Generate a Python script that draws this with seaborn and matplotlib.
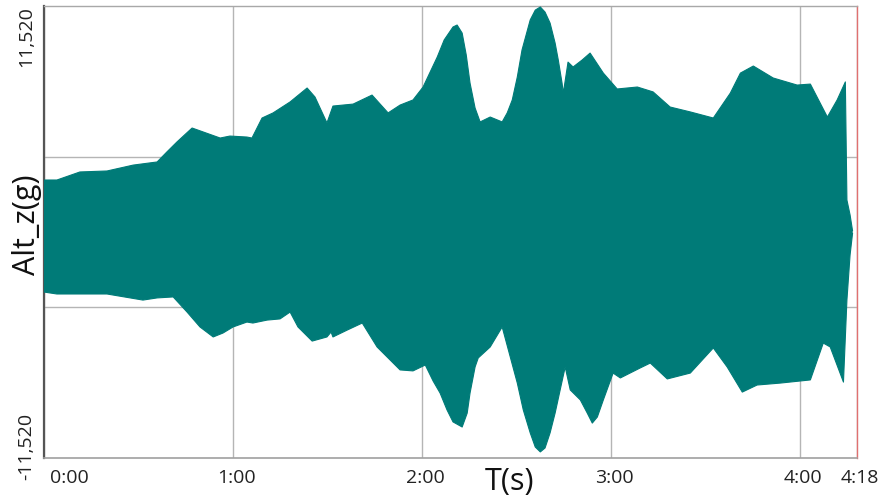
import matplotlib
matplotlib.use("Agg")
import matplotlib.pyplot as plt
from matplotlib.transforms import ScaledTranslation
import seaborn as sns
import numpy as np
import pandas as pd

# envelope of the Alt_z signal (t in seconds, value in g)
t_upper = [0, 4.1, 11.4, 20.0, 28.3, 35.9, 39.0, 42.2, 47.0, 50.5,
           55.9, 59.0, 64.4, 66.0, 69.2, 72.7, 78.1, 83.5, 86.0, 89.8,
           91.7, 98.1, 104.1, 109.2, 113.0, 117.1, 120.3, 124.8, 127.0, 129.8,
           131.1, 132.7, 134.0, 135.2, 136.8, 138.4, 141.6, 145.4, 147.0, 148.6,
           150.2, 151.7, 154.3, 155.9, 157.5, 159.0, 160.6, 162.2, 163.2, 164.4,
           164.8, 166.3, 167.9, 170.8, 173.3, 177.5, 181.9, 188.3, 193.3, 198.7,
           205.1, 212.4, 217.8, 221.0, 225.1, 231.4, 239.0, 243.2, 248.6, 251.7,
           254.3, 254.8, 255.8, 256.6]
upper = [2.65, 2.65, 3.06, 3.11, 3.41, 3.57, 4.08, 4.59, 5.30, 5.10,
         4.79, 4.89, 4.84, 4.79, 5.81, 6.07, 6.63, 7.34, 6.88, 5.56,
         6.42, 6.52, 6.98, 6.07, 6.47, 6.73, 7.39, 8.92, 9.79, 10.45,
         10.55, 10.14, 9.02, 7.59, 6.32, 5.61, 5.86, 5.61, 6.07, 6.73,
         7.90, 9.28, 10.81, 11.31, 11.47, 11.21, 10.65, 9.63, 8.77, 7.59,
         7.08, 8.66, 8.41, 8.77, 9.12, 8.10, 7.29, 7.39, 7.14, 6.37,
         6.12, 5.81, 7.08, 8.10, 8.46, 7.85, 7.49, 7.54, 5.86, 6.73,
         7.65, 1.63, 0.87, 0.05]

t_lower = [0, 4.1, 20.0, 31.4, 35.9, 41.0, 45.4, 49.5, 53.7, 56.8,
           60.0, 64.4, 66.3, 70.8, 74.9, 78.1, 80.6, 85.1, 89.8, 91.1,
           91.7, 96.2, 101.0, 105.7, 113.0, 117.1, 121.0, 123.5, 125.7, 127.9,
           129.8, 132.7, 134.3, 135.2, 136.8, 137.8, 141.6, 145.4, 150.2, 152.1,
           154.3, 155.9, 157.5, 159.0, 160.6, 162.2, 163.8, 165.4, 167.0, 170.2,
           172.4, 174.0, 175.6, 177.5, 180.6, 182.9, 189.2, 192.4, 197.8, 205.1,
           212.4, 216.8, 221.6, 226.3, 233.7, 243.2, 247.3, 249.5, 253.7, 254.8,
           255.8, 256.6]
lower = [-3.06, -3.16, -3.16, -3.47, -3.36, -3.31, -4.08, -4.84, -5.35, -5.15,
         -4.84, -4.59, -4.64, -4.49, -4.43, -4.08, -4.84, -5.56, -5.35, -5.10,
         -5.35, -5.00, -4.64, -5.86, -7.03, -7.08, -6.78, -7.60, -8.21, -9.07,
         -9.68, -9.94, -9.23, -8.21, -6.88, -6.42, -5.86, -4.84, -7.70, -9.07,
         -10.24, -10.96, -11.21, -11.01, -10.24, -9.23, -8.05, -6.88, -8.05, -8.56,
         -9.23, -9.74, -9.43, -8.56, -7.19, -7.44, -6.93, -6.68, -7.49, -7.19,
         -5.91, -6.88, -8.16, -7.80, -7.70, -7.54, -5.66, -5.86, -7.65, -3.47,
         -1.17, -0.05]

x_ticks = [0, 60, 120, 180, 240, 258]
x_labels = ["0:00", "1:00", "2:00", "3:00", "4:00", "4:18"]
y_lim = 11.52
y_labels = ["-11,520", "11,520"]
y_grid = [-3.84, 3.84]

teal = "#007b78"

sns.set_style("white")
plt.rcParams['font.family'] = ['Open Sans', 'DejaVu Sans']

fig = plt.figure(figsize=(8.87, 5.01), dpi=100)
ax = fig.add_axes([44 / 887, 1 - 458 / 501, 813 / 887, 452 / 501])

# filled envelope
ax.fill(np.concatenate([t_upper, t_lower[::-1]]),
        np.concatenate([upper, lower[::-1]]),
        color=teal, lw=0, zorder=3)
df_up = pd.DataFrame({"t": t_upper, "v": upper})
df_lo = pd.DataFrame({"t": t_lower, "v": lower})
sns.lineplot(data=df_up, x="t", y="v", color=teal, lw=0.8, ax=ax, zorder=3)
sns.lineplot(data=df_lo, x="t", y="v", color=teal, lw=0.8, ax=ax, zorder=3)

ax.set_xlim(0, 258)
ax.set_ylim(-y_lim, y_lim)

ax.set_xticks(x_ticks, x_labels, fontsize=14)
ax.set_yticks([-y_lim, y_lim], y_labels, fontsize=14)
ax.set_yticks(y_grid, minor=True)
ax.tick_params(axis="both", which="both", length=0, colors="#222222")
ax.tick_params(axis="x", pad=8)
ax.tick_params(axis="y", pad=6)

ax.grid(True, axis="x", which="major", color="#b5b5b5", lw=1)
ax.grid(True, axis="y", which="minor", color="#b5b5b5", lw=1)
ax.set_axisbelow(True)

# tick label placement
xl = ax.get_xticklabels()
xl[0].set_ha("left")
xl[0].set_transform(xl[0].get_transform() + ScaledTranslation(6 / 100, 0, fig.dpi_scale_trans))
for lab in xl[1:]:
    lab.set_transform(lab.get_transform() + ScaledTranslation(3 / 100, 0, fig.dpi_scale_trans))
yl = ax.get_yticklabels()
for lab in yl:
    lab.set_rotation(90)
yl[0].set_va("bottom")
yl[0].set_transform(yl[0].get_transform() + ScaledTranslation(0, -22 / 100, fig.dpi_scale_trans))
yl[1].set_va("top")

ax.set_xlabel("T(s)", fontsize=22, color="#111111")
ax.xaxis.set_label_coords(0.572, -0.02)
ax.set_ylabel("Alt_z(g)", fontsize=22, color="#111111")
ax.yaxis.set_label_coords(-0.003, 0.515)

for side in ["top", "bottom", "left", "right"]:
    ax.spines[side].set_visible(True)
ax.spines["top"].set_color("#a8a8a8")
ax.spines["bottom"].set_color("#a0a0a0")
ax.spines["left"].set_color("#555555")
ax.spines["left"].set_linewidth(1.6)
ax.spines["right"].set_color("#e07070")
ax.spines["top"].set_linewidth(1.0)
ax.spines["bottom"].set_linewidth(1.2)
ax.spines["right"].set_linewidth(1.0)

fig.savefig("out.png", dpi=100)
